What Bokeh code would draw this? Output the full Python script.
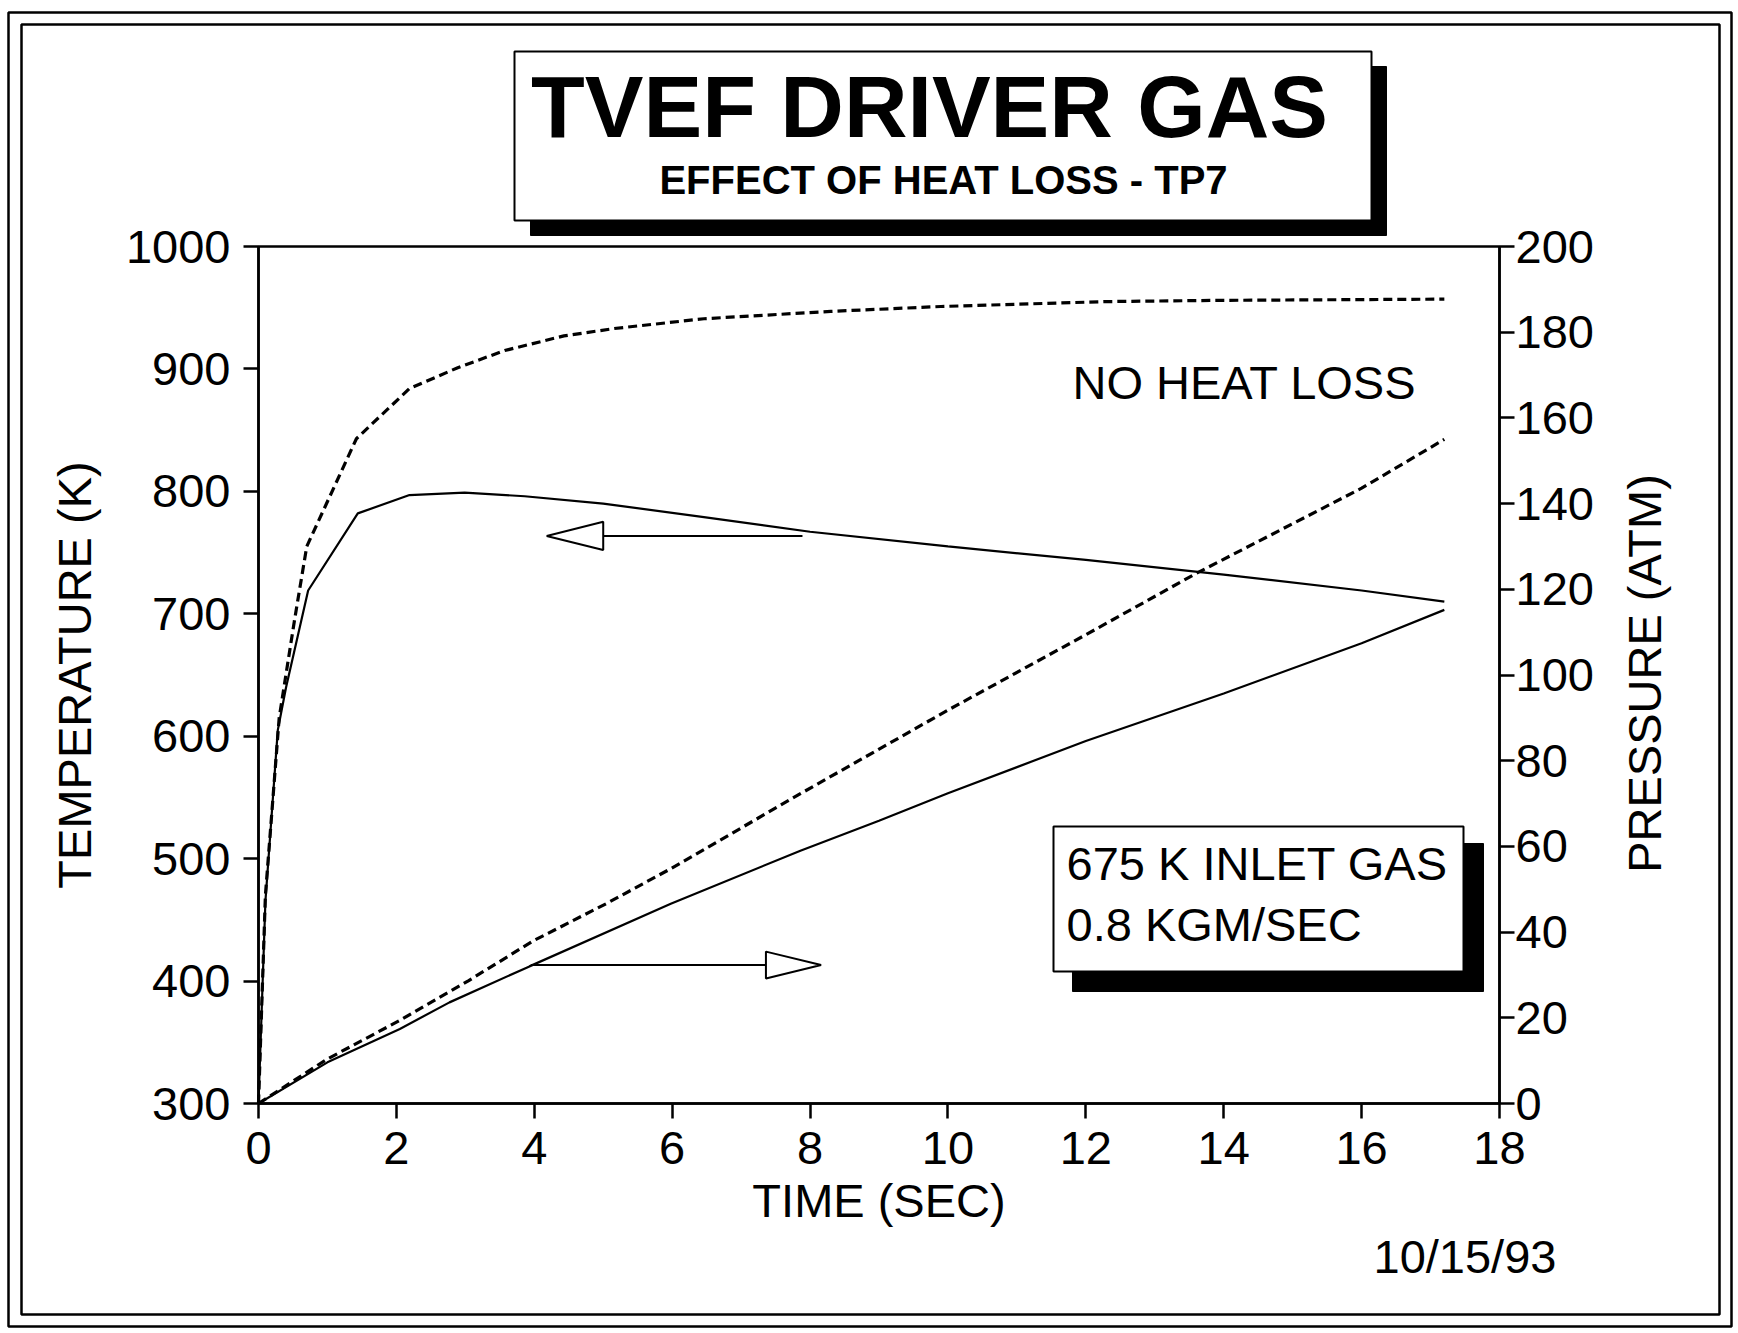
from bokeh.plotting import figure
from bokeh.models import Range1d, LinearAxis, FixedTicker, Label, BoxAnnotation
from bokeh.embed import file_html
from bokeh.resources import INLINE
import math

# ---------------- data ----------------
time_temp_noloss = [0, 0.1, 0.3, 0.52, 0.7, 1.42, 2.19, 2.89, 3.57, 4.43, 5.16, 6.46, 8.3, 9.9, 12.3, 13.9, 17.2]
temp_noloss = [300, 470, 615, 694, 755, 843, 884, 901, 915, 927, 933, 941, 947, 951, 955, 956, 957]

time_temp_loss = [0, 0.1, 0.28, 0.4, 0.72, 1.44, 2.19, 2.99, 3.86, 5.0, 6.46, 8.0, 10.0, 12.0, 14.0, 16.0, 17.2]
temp_loss = [300, 465, 605, 640, 719, 782, 797, 799, 796, 790, 779, 767, 755, 744, 732, 719, 710]

time_pres_noloss = [0, 1.0, 2.05, 3.05, 3.99, 5.04, 5.98, 7.86, 10.0, 12.0, 13.6, 16.0, 17.2]
pres_noloss = [0, 10.4, 19.4, 28.7, 38.0, 46.6, 54.8, 72.3, 91.8, 109.4, 123.7, 143.6, 155.0]

time_pres_loss = [0, 1.0, 2.05, 2.77, 3.93, 5.98, 7.86, 9.0, 10.0, 12.0, 14.0, 16.0, 17.2]
pres_loss = [0, 9.6, 17.4, 23.6, 32.0, 46.6, 59.0, 66.0, 72.4, 84.6, 95.7, 107.4, 115.2]

x_ticks = [0, 2, 4, 6, 8, 10, 12, 14, 16, 18]
temp_ticks = [300, 400, 500, 600, 700, 800, 900, 1000]
pres_ticks = [0, 20, 40, 60, 80, 100, 120, 140, 160, 180, 200]

title_text = "TVEF DRIVER GAS"
subtitle_text = "EFFECT OF HEAT LOSS - TP7"
note_text = "NO HEAT LOSS"
box_line1 = "675 K INLET GAS"
box_line2 = "0.8 KGM/SEC"
date_text = "10/15/93"

# ---------------- styling ----------------
FONT = "Liberation Sans"
FS = "47px"

# page geometry (window pixels); canvas starts at the window's corner
OX, OY = 0, 0
CW, CH = 1736, 1331
X0, X1, Y0, Y1 = 258, 1499, 1103, 246      # plot area corners
PXU = (X1 - X0) / 18.0                    # px per second
PYT = (Y0 - Y1) / 700.0                   # px per kelvin
PYP = (Y0 - Y1) / 200.0                   # px per atm


def dx(px):
    return (px - X0) / PXU


def dy(py):
    return 300 + (Y0 - py) / PYT


def dp(py):
    return (Y0 - py) / PYP


p = figure(frame_width=CW, frame_height=CH,
           x_range=Range1d(dx(OX), dx(OX + CW)), y_range=Range1d(dy(OY + CH), dy(OY)),
           output_backend="svg", toolbar_location=None,
           min_border=0, min_border_left=0, min_border_right=0,
           min_border_top=0, min_border_bottom=0,
           background_fill_color="white", border_fill_color="white",
           x_axis_location=None, y_axis_location=None)
p.title.visible = False
p.extra_y_ranges = {"p": Range1d(dp(OY + CH), dp(OY))}
p.grid.visible = False
p.outline_line_color = None

bottom_axis = LinearAxis(fixed_location=300, bounds=(0, 18))
left_axis = LinearAxis(fixed_location=0, bounds=(300, 1000))
right_axis = LinearAxis(y_range_name="p", fixed_location=18, bounds=(0, 200))
p.add_layout(bottom_axis, "below")
p.add_layout(left_axis, "left")
p.add_layout(right_axis, "right")

for ax in [bottom_axis, left_axis, right_axis]:
    ax.axis_line_color = "black"
    ax.axis_line_width = 2.5
    ax.major_tick_line_color = "black"
    ax.major_tick_line_width = 2.5
    ax.major_tick_out = 15
    ax.major_tick_in = 0
    ax.minor_tick_line_color = None
    ax.major_label_text_font = FONT
    ax.major_label_text_font_size = FS
    ax.major_label_text_color = "black"
    ax.axis_label_text_font = FONT
    ax.axis_label_text_font_size = FS
    ax.axis_label_text_font_style = "normal"
    ax.axis_label_text_color = "black"

bottom_axis.ticker = FixedTicker(ticks=x_ticks)
left_axis.ticker = FixedTicker(ticks=temp_ticks)
right_axis.ticker = FixedTicker(ticks=pres_ticks)

bottom_axis.axis_label = "TIME (SEC)"
bottom_axis.major_label_standoff = 13
bottom_axis.axis_label_standoff = 7
left_axis.axis_label = "TEMPERATURE (K)"
left_axis.major_label_standoff = 13
left_axis.axis_label_standoff = 22
right_axis.major_label_standoff = 1

# ---------------- decorative frames ----------------
p.add_layout(BoxAnnotation(left=dx(8), right=dx(1731), top=dy(12), bottom=dy(1326),
                           fill_alpha=0, line_color="black", line_alpha=1, line_width=2.5))
p.add_layout(BoxAnnotation(left=dx(21), right=dx(1719), top=dy(24), bottom=dy(1314),
                           fill_alpha=0, line_color="black", line_alpha=1, line_width=2.5))
# plot area box (top and right edges of the frame)
p.add_layout(BoxAnnotation(left=0, right=18, top=1000, bottom=300,
                           fill_alpha=0, line_color="black", line_alpha=1, line_width=2.5))

# title box with shadow
p.add_layout(BoxAnnotation(left=dx(530), right=dx(1386), top=dy(66), bottom=dy(235),
                           fill_color="black", fill_alpha=1, line_color="black", line_alpha=1, line_width=1))
p.add_layout(BoxAnnotation(left=dx(514), right=dx(1371), top=dy(51), bottom=dy(220),
                           fill_color="white", fill_alpha=1, line_color="black", line_alpha=1, line_width=2))
p.add_layout(Label(x=dx(929), y=dy(138 - 32), text=title_text, text_font=FONT, text_font_style="bold",
                   text_font_size="88px", text_align="center", text_baseline="alphabetic",
                   text_color="black"))
p.add_layout(Label(x=dx(943), y=dy(194 - 15), text=subtitle_text, text_font=FONT, text_font_style="bold",
                   text_font_size="40px", text_align="center", text_baseline="alphabetic",
                   text_color="black"))

# ---------------- curves ----------------
p.line(time_temp_noloss, temp_noloss, line_color="black", line_width=3.2, line_dash="9 5")
p.line(time_temp_loss, temp_loss, line_color="black", line_width=2.2)
p.line(time_pres_noloss, pres_noloss, y_range_name="p", line_color="black", line_width=3.2, line_dash="9 5")
p.line(time_pres_loss, pres_loss, y_range_name="p", line_color="black", line_width=2.2)

# arrows (annotations)
A1_TIP, A1_BASE, A1_END, A1_Y, A1_H = 4.18, 5.0, 7.89, 763.6, 11.5
p.line([A1_BASE, A1_END], [A1_Y, A1_Y], line_color="black", line_width=2)
p.patch([A1_TIP, A1_BASE, A1_BASE], [A1_Y, A1_Y + A1_H, A1_Y - A1_H],
        fill_color="white", line_color="black", line_width=2)

A2_START, A2_BASE, A2_TIP, A2_Y, A2_H = 3.95, 7.36, 8.16, 32.3, 3.15
p.line([A2_START, A2_BASE], [A2_Y, A2_Y], y_range_name="p", line_color="black", line_width=2)
p.patch([A2_TIP, A2_BASE, A2_BASE], [A2_Y, A2_Y + A2_H, A2_Y - A2_H], y_range_name="p",
        fill_color="white", line_color="black", line_width=2)

# ---------------- texts ----------------
SH = 19  # baseline correction for 47px labels
p.add_layout(Label(x=dx(1072), y=dy(401 - SH), text=note_text, text_font=FONT, text_font_size=FS,
                   text_align="left", text_baseline="alphabetic", text_color="black"))

p.add_layout(BoxAnnotation(left=dx(1072), right=dx(1483), top=dy(843), bottom=dy(991),
                           fill_color="black", fill_alpha=1, line_color="black", line_alpha=1, line_width=1))
p.add_layout(BoxAnnotation(left=dx(1053), right=dx(1463), top=dy(826), bottom=dy(971),
                           fill_color="white", fill_alpha=1, line_color="black", line_alpha=1, line_width=2))
p.add_layout(Label(x=dx(1066), y=dy(882 - SH), text=box_line1, text_font=FONT, text_font_size=FS,
                   text_align="left", text_baseline="alphabetic", text_color="black"))
p.add_layout(Label(x=dx(1066), y=dy(943 - SH), text=box_line2, text_font=FONT, text_font_size=FS,
                   text_align="left", text_baseline="alphabetic", text_color="black"))

p.add_layout(Label(x=dx(1644), y=dy(673), text="PRESSURE (ATM)", text_font=FONT, text_font_size=FS,
                   angle=math.pi / 2, text_align="center", text_baseline="middle", text_color="black"))

p.add_layout(Label(x=dx(1373), y=dy(1275 - SH), text=date_text, text_font=FONT, text_font_size=FS,
                   text_align="left", text_baseline="alphabetic", text_color="black"))

open("out.html", "w").write(file_html(p, INLINE))
